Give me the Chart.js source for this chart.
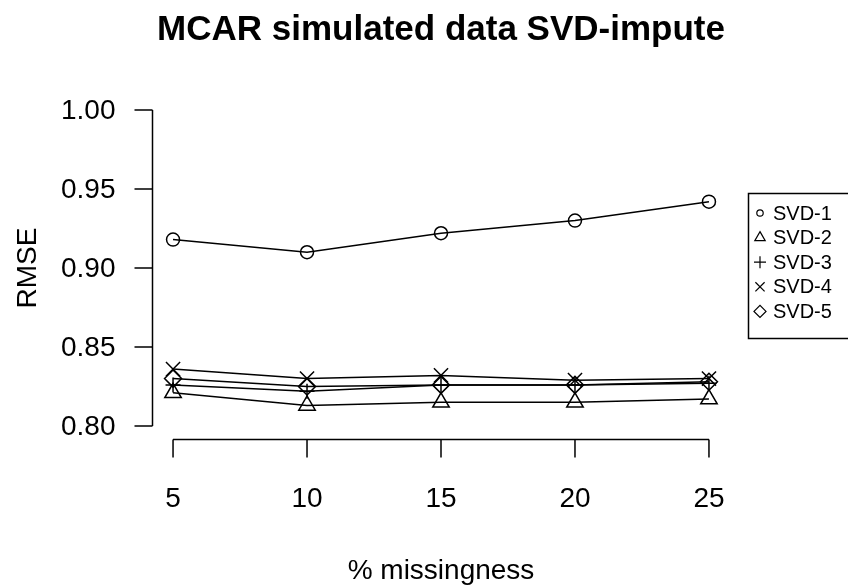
<!DOCTYPE html>
<html><head><meta charset="utf-8">
<script src="https://cdn.jsdelivr.net/npm/chart.js@4/dist/chart.umd.min.js"></script>
<style>html,body{margin:0;padding:0;background:#fff}#c{display:block}</style>
</head><body>
<canvas id="c" width="848" height="586"></canvas>
<script>
const missingness = [5, 10, 15, 20, 25];
const svd1 = [0.918, 0.910, 0.922, 0.930, 0.942];
const svd2 = [0.821, 0.813, 0.815, 0.815, 0.817];
const svd3 = [0.826, 0.822, 0.826, 0.826, 0.827];
const svd4 = [0.836, 0.830, 0.832, 0.829, 0.830];
const svd5 = [0.830, 0.825, 0.826, 0.826, 0.828];
const seriesNames = ['SVD-1', 'SVD-2', 'SVD-3', 'SVD-4', 'SVD-5'];
const xTicks = [5, 10, 15, 20, 25];
const yTicks = [0.80, 0.85, 0.90, 0.95, 1.00];
const yTickLabels = ['0.80', '0.85', '0.90', '0.95', '1.00'];

const seriesValues = [svd1, svd2, svd3, svd4, svd5];
const styles = [
  {pointStyle: 'circle', radius: 6.5, lr: 3.2},
  {pointStyle: 'triangle', radius: 9.5, lr: 6},
  {pointStyle: 'cross', radius: 7.5, lr: 6},
  {pointStyle: 'crossRot', radius: 10, lr: 6.5},
  {pointStyle: 'rectRot', radius: 8.5, lr: 6}
];
const FONT = '"Liberation Sans", Arial, sans-serif';

const datasets = seriesValues.map((vals, i) => ({
  label: seriesNames[i],
  data: missingness.map((x, j) => ({x: x, y: vals[j]})),
  borderColor: '#000',
  backgroundColor: 'rgba(0,0,0,0)',
  pointBorderColor: '#000',
  pointBackgroundColor: 'rgba(0,0,0,0)',
  borderWidth: 1.5,
  pointBorderWidth: 1.5,
  pointStyle: styles[i].pointStyle,
  pointRadius: styles[i].radius,
  tension: 0,
  fill: false
}));

const rAxes = {
  id: 'rAxes',
  afterDraw(chart) {
    const ctx = chart.ctx;
    const xs = chart.scales.x, ys = chart.scales.y;
    const ca = chart.chartArea;
    ctx.save();
    ctx.strokeStyle = '#000';
    ctx.fillStyle = '#000';
    ctx.lineWidth = 1.5;
    // y axis
    const yx = Math.round(ca.left) + 0.5;
    ctx.beginPath();
    ctx.moveTo(yx, ys.getPixelForValue(yTicks[0]));
    ctx.lineTo(yx, ys.getPixelForValue(yTicks[yTicks.length - 1]));
    yTicks.forEach(v => {
      const py = ys.getPixelForValue(v);
      ctx.moveTo(yx, py);
      ctx.lineTo(yx - 18, py);
    });
    ctx.stroke();
    ctx.font = '28px ' + FONT;
    ctx.textAlign = 'right';
    ctx.textBaseline = 'middle';
    yTicks.forEach((v, i) => {
      ctx.fillText(yTickLabels[i], yx - 37, ys.getPixelForValue(v) + 1);
    });
    // x axis
    const xy = Math.round(ca.bottom) + 0.5;
    ctx.beginPath();
    ctx.moveTo(xs.getPixelForValue(xTicks[0]), xy);
    ctx.lineTo(xs.getPixelForValue(xTicks[xTicks.length - 1]), xy);
    xTicks.forEach(v => {
      const px = xs.getPixelForValue(v);
      ctx.moveTo(px, xy);
      ctx.lineTo(px, xy + 18);
    });
    ctx.stroke();
    ctx.textAlign = 'center';
    ctx.textBaseline = 'middle';
    xTicks.forEach(v => {
      ctx.fillText(String(v), xs.getPixelForValue(v), xy + 60);
    });
    // axis titles
    ctx.fillText('% missingness', (xs.getPixelForValue(xTicks[0]) + xs.getPixelForValue(xTicks[4])) / 2, 571);
    ctx.save();
    ctx.translate(28, (ys.getPixelForValue(yTicks[0]) + ys.getPixelForValue(yTicks[4])) / 2);
    ctx.rotate(-Math.PI / 2);
    ctx.fillText('RMSE', 0, 0);
    ctx.restore();
    // title
    ctx.font = 'bold 35px ' + FONT;
    ctx.fillText('MCAR simulated data SVD-impute', 441, 30);
    // legend
    ctx.lineWidth = 1.5;
    ctx.strokeRect(748.5, 193.5, 130, 145);
    ctx.font = '20px ' + FONT;
    ctx.textAlign = 'left';
    seriesNames.forEach((name, i) => {
      const ly = 213 + i * 24.6;
      ctx.lineWidth = 1.2;
      ctx.fillStyle = 'rgba(0,0,0,0)';
      Chart.helpers.drawPoint(ctx, {pointStyle: styles[i].pointStyle, radius: styles[i].lr, rotation: 0, borderWidth: 1.2}, 760, ly);
      ctx.fillStyle = '#000';
      ctx.fillText(name, 773, ly + 1);
    });
    ctx.restore();
  }
};

new Chart(document.getElementById('c'), {
  type: 'line',
  data: {datasets: datasets},
  options: {
    responsive: false,
    animation: false,
    layout: {padding: {left: 151.6, right: 117.6, top: 97.4, bottom: 147.4}},
    scales: {
      x: {type: 'linear', min: 4.2, max: 25.8, display: false},
      y: {type: 'linear', min: 0.792, max: 1.008, display: false}
    },
    plugins: {legend: {display: false}, title: {display: false}, tooltip: {enabled: false}}
  },
  plugins: [rAxes]
});
</script>
</body></html>
